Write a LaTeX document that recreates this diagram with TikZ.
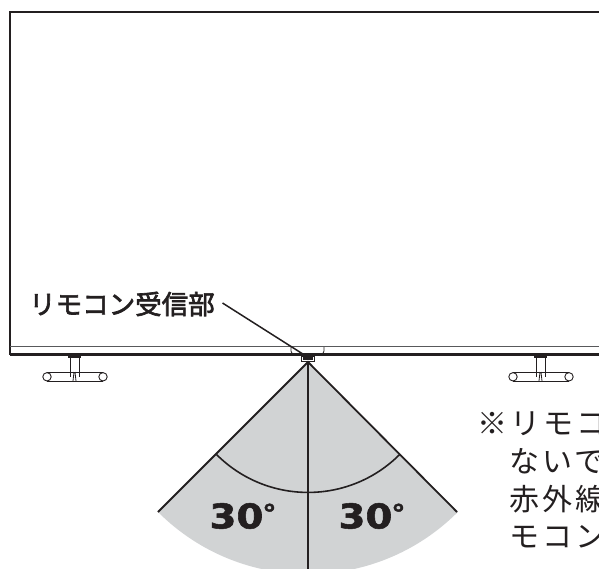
\documentclass[tikz,border=0pt]{standalone}
\usepackage{fontspec}
\newfontfamily\jpfont[LetterSpace=10]{Noto Sans CJK JP}
\newfontfamily\jpmedium[FakeBold=2.5]{Noto Sans CJK JP}
\newfontfamily\degfont[FakeBold=1.5]{DejaVu Sans Bold}
\definecolor{ink}{HTML}{231F20}
\definecolor{sector}{HTML}{D1D3D4}
\definecolor{edgegray}{HTML}{58595B}
\tikzset{
  heavy line/.style={draw=ink,line width=2.4pt},
  mid line/.style={draw=ink,line width=1.8pt},
  fine line/.style={draw=ink,line width=.8pt},
  note text/.style={anchor=west,inner sep=0pt,text=ink,font=\fontsize{30pt}{30pt}\jpfont},
  angle text/.style={inner sep=0pt,text=ink,font=\fontsize{34pt}{34pt}\degfont,xscale=1.14},
}
\newcommand{\deglabel}{30\kern-1pt{\fontsize{25pt}{25pt}\selectfont\raisebox{6pt}{°}}}
\begin{document}
\begin{tikzpicture}[x=1pt,y=-1pt]
\useasboundingbox (0,0) rectangle (599,569);
\clip (0,0) rectangle (599,569);
% sector
\coordinate (apex) at (308,362);
\coordinate (sl) at (158,512);
\coordinate (sr) at (457,512);
\coordinate (bottom) at (308,574);
\coordinate (al) at (216.5,454.5);
\fill[sector] (apex) -- (sl) arc[start angle=135,end angle=45,radius=212] -- cycle;
\draw[mid line] (sl) -- (apex) -- (sr);
\draw[mid line] (apex) -- (bottom);
\draw[mid line,line width=1.6pt] (al) arc[start angle=135,end angle=45,radius=129.5];
% television
\draw[draw=ink,line width=2pt] (600,12) -- (10,12) -- (10,355);
\draw[draw=edgegray,line width=1.5pt] (10,346.5) -- (600,346.5);
\draw[heavy line] (10,354.5) -- (600,354.5);
% receiver window
\draw[fine line,rounded corners=3pt] (291,347) -- (291,354) -- (324,354) -- (324,347);
\node[draw=ink,line width=.8pt,minimum width=13pt,minimum height=5pt,inner sep=0pt] (sensorbox) at (308,358.5) {};
\fill[ink] (303,354.5) rectangle (313,360);
\coordinate (sensor) at (306,356);
% stands
\foreach \c in {75,541}{
  \draw[fine line] (\c-5,356) -- (\c-5,377) (\c+4,356) -- (\c+4,377);
  \draw[draw=ink,line width=1.6pt] (\c-7,357) -- (\c+6,357);
  \draw[fine line] (\c-28,372.5) -- (\c+28,372.5) (\c-28,381) -- (\c+28,381);
  \draw[draw=ink,line width=.9pt] (\c-28,376.8) circle[radius=4.2] (\c+28,376.8) circle[radius=4.2];
  \draw[fine line] (\c-1,372) -- (\c-2,381) (\c,372) -- (\c+1,381);
}
% labels
\node[inner sep=0pt,anchor=west,text=ink,font=\fontsize{26.5pt}{28pt}\jpmedium] (label) at (29,304) {リモコン受信部};
\draw[draw=ink,line width=1.5pt] (222.5,303) -- (sensor);
\node[note text] (n1) at (477,424) {※リモコ};
\node[note text] (n2) at (509,461) {ないで};
\node[note text] (n3) at (509,499) {赤外線};
\node[note text] (n4) at (509,537) {モコン};
\node[angle text] (a1) at (243,516) {\deglabel};
\node[angle text] (a2) at (372,516) {\deglabel};
\end{tikzpicture}
\end{document}
